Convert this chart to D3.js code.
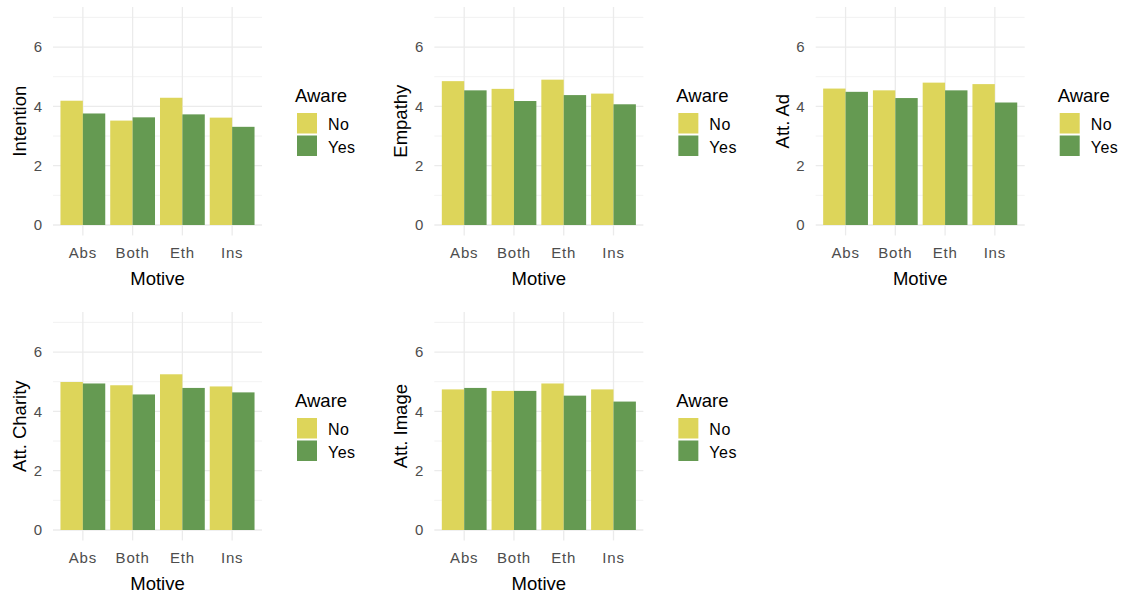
<!DOCTYPE html>
<html>
<head>
<meta charset="utf-8">
<script src="https://cdn.jsdelivr.net/npm/d3@7"></script>
<style>
    body { margin: 0; background: #fff; }
    svg { display: block; font-family: "Liberation Sans", Arial, sans-serif; }
</style>
</head>
<body>
<div id="chart"></div>
<script>
var motives = ["Abs", "Both", "Eth", "Ins"];
var awareLevels = ["No", "Yes"];
var awareColors = ["#DDD55A", "#659A52"];
var yTicks = [0, 2, 4, 6];
var yMinorTicks = [1, 3, 5, 7];

var intentionNo = [4.19, 3.52, 4.29, 3.62];
var intentionYes = [3.76, 3.63, 3.73, 3.31];
var empathyNo = [4.85, 4.59, 4.90, 4.43];
var empathyYes = [4.54, 4.18, 4.38, 4.07];
var attAdNo = [4.60, 4.54, 4.80, 4.75];
var attAdYes = [4.49, 4.28, 4.54, 4.13];
var attCharityNo = [4.99, 4.88, 5.25, 4.84];
var attCharityYes = [4.94, 4.57, 4.79, 4.64];
var attImageNo = [4.74, 4.69, 4.94, 4.74];
var attImageYes = [4.79, 4.69, 4.53, 4.33];

var panels = [
    { label: "Intention", no: intentionNo, yes: intentionYes, col: 0, row: 0 },
    { label: "Empathy", no: empathyNo, yes: empathyYes, col: 1, row: 0 },
    { label: "Att. Ad", no: attAdNo, yes: attAdYes, col: 2, row: 0 },
    { label: "Att. Charity", no: attCharityNo, yes: attCharityYes, col: 0, row: 1 },
    { label: "Att. Image", no: attImageNo, yes: attImageYes, col: 1, row: 1 }
];

var svg = d3.select("#chart")
    .append("svg")
    .attr("width", 1123)
    .attr("height", 595);

var plotW = 209;
var unit = 29.66;

function drawPanel(p) {
    var left = 53 + p.col * 381.35;
    var zeroY = 225 + p.row * 305;
    var top = zeroY - 7.35 * unit;
    var bottom = zeroY + 0.35 * unit;

    var g = svg.append("g");

    var x = d3.scaleBand()
        .domain(motives)
        .range([left, left + plotW])
        .paddingInner(0.1)
        .paddingOuter(0.15);

    var xInner = d3.scaleBand()
        .domain(awareLevels)
        .range([0, x.bandwidth()]);

    var y = d3.scaleLinear()
        .domain([-0.35, 7.35])
        .range([bottom, top]);

    var color = d3.scaleOrdinal()
        .domain(awareLevels)
        .range(awareColors);

    // grid lines
    g.selectAll(".minor")
        .data(yMinorTicks)
        .enter()
        .append("line")
        .attr("x1", left).attr("x2", left + plotW)
        .attr("y1", function (d) { return y(d); })
        .attr("y2", function (d) { return y(d); })
        .attr("stroke", "#EFEFEF")
        .attr("stroke-width", 0.8);

    g.selectAll(".major")
        .data(yTicks)
        .enter()
        .append("line")
        .attr("x1", left).attr("x2", left + plotW)
        .attr("y1", function (d) { return y(d); })
        .attr("y2", function (d) { return y(d); })
        .attr("stroke", "#EBEBEB")
        .attr("stroke-width", 1.3);

    g.selectAll(".vgrid")
        .data(motives)
        .enter()
        .append("line")
        .attr("x1", function (d) { return x(d) + x.bandwidth() / 2; })
        .attr("x2", function (d) { return x(d) + x.bandwidth() / 2; })
        .attr("y1", top).attr("y2", bottom)
        .attr("stroke", "#EBEBEB")
        .attr("stroke-width", 1.3);

    // bars
    var rows = [];
    motives.forEach(function (m, i) {
        rows.push({ motive: m, aware: "No", value: p.no[i] });
        rows.push({ motive: m, aware: "Yes", value: p.yes[i] });
    });

    g.selectAll(".bar")
        .data(rows)
        .enter()
        .append("rect")
        .attr("x", function (d) { return x(d.motive) + xInner(d.aware); })
        .attr("y", function (d) { return y(d.value); })
        .attr("width", xInner.bandwidth())
        .attr("height", function (d) { return y(0) - y(d.value); })
        .attr("fill", function (d) { return color(d.aware); });

    // y axis labels
    var yAxis = g.append("g")
        .attr("transform", "translate(" + (left - 4) + ",0)")
        .call(d3.axisLeft(y).tickValues(yTicks).tickSize(0).tickPadding(7));
    yAxis.select(".domain").remove();
    yAxis.selectAll("text")
        .attr("fill", "#4D4D4D")
        .style("font-size", "15px")
        .style("font-family", "\"Liberation Sans\", Arial, sans-serif");

    // x axis labels
    var xAxis = g.append("g")
        .attr("transform", "translate(0," + bottom + ")")
        .call(d3.axisBottom(x).tickSize(0).tickPadding(12));
    xAxis.select(".domain").remove();
    xAxis.selectAll("text")
        .attr("fill", "#4D4D4D")
        .style("font-size", "15px")
        .style("letter-spacing", "0.8px")
        .style("font-family", "\"Liberation Sans\", Arial, sans-serif");

    // axis titles
    g.append("text")
        .attr("x", left + plotW / 2)
        .attr("y", zeroY + 60)
        .attr("text-anchor", "middle")
        .style("font-size", "18.5px")
        .text("Motive");

    g.append("text")
        .attr("transform", "translate(" + (left - 27) + "," + ((top + bottom) / 2) + ") rotate(-90)")
        .attr("text-anchor", "middle")
        .style("font-size", "18.5px")
        .text(p.label);

    // legend
    var lg = g.append("g")
        .attr("transform", "translate(" + (left + 243) + "," + (zeroY - 123) + ")");

    lg.append("text")
        .attr("x", -1)
        .attr("y", 0)
        .style("font-size", "18.5px")
        .text("Aware");

    lg.selectAll(".key")
        .data(awareLevels)
        .enter()
        .append("rect")
        .attr("x", 1)
        .attr("y", function (d, i) { return 11 + i * 22.5; })
        .attr("width", 20)
        .attr("height", 20.5)
        .attr("fill", function (d) { return color(d); });

    lg.selectAll(".keylabel")
        .data(awareLevels)
        .enter()
        .append("text")
        .attr("x", 32)
        .attr("y", function (d, i) { return 28 + i * 22.7; })
        .style("font-size", "16px")
        .style("letter-spacing", "0.5px")
        .text(function (d) { return d; });
}

panels.forEach(drawPanel);
</script>
</body>
</html>
